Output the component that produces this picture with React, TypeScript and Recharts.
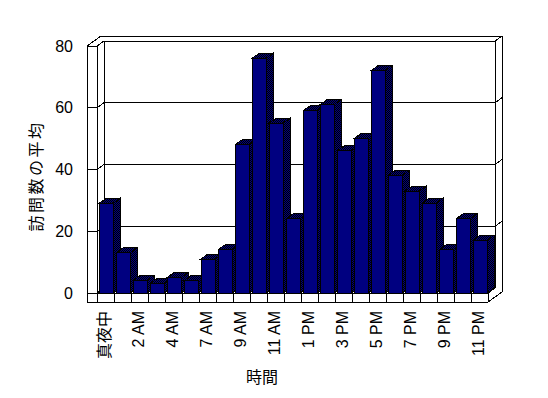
import React from 'react';
import { BarChart, Bar, XAxis, YAxis, CartesianGrid, Label } from 'recharts';

const hours = ['真夜中', '1 AM', '2 AM', '3 AM', '4 AM', '6 AM', '7 AM', '8 AM', '9 AM', '10 AM', '11 AM', '正午', '1 PM', '2 PM', '3 PM', '4 PM', '5 PM', '6 PM', '7 PM', '8 PM', '9 PM', '10 PM', '11 PM'];
const visits = [29, 13, 4, 3, 5, 4, 11, 14, 48, 76, 55, 24, 59, 61, 46, 50, 72, 38, 33, 29, 14, 24, 17];
const yTicks = [0, 20, 40, 60, 80];
const yTitle = '訪問数の平均';
const xTitle = '時間';

const data = hours.map((h, i) => ({ hour: h, visits: visits[i] }));

const W = 548;
const H = 398;
const DX = 7;
const DY = -5;
const WALL = 10;
const FLOOR = 9;
const FONT = "'Liberation Sans', Arial, 'Noto Sans CJK JP', sans-serif";
const JP = "'Noto Sans CJK JP', sans-serif";

// layout
const M = { top: 46, right: 60, bottom: 25, left: 37 };
const YW = 60;
const XH = 80;
const PL = M.left + YW;
const PR = W - M.right;
const PT = M.top;
const PB = H - M.bottom - XH;

const Bar3D = (props: any) => {
  const { x, y, width: w, height: h } = props;
  if (h == null || w == null || isNaN(y)) return null;
  const side = `${x + w},${y} ${x + w + DX},${y + DY} ${x + w + DX},${y + h + DY} ${x + w},${y + h}`;
  const top = `${x},${y} ${x + DX},${y + DY} ${x + w + DX},${y + DY} ${x + w},${y}`;
  return (
    <g shapeRendering="crispEdges">
      <polygon points={side} fill="url(#dither)" stroke="#000" strokeWidth={1} />
      <polygon points={top} fill="url(#dither)" stroke="#000" strokeWidth={1} />
      <rect x={x} y={y} width={w} height={h} fill="#000080" stroke="#000" strokeWidth={1} />
    </g>
  );
};

const gridH = (p: any) => {
  const { x1, y1, x2 } = p;
  const atFloor = Math.abs(y1 - PB) < 1;
  const pts = atFloor
    ? `${x1 - WALL},${y1} ${x1},${y1} ${x1 + DX},${y1 + DY}`
    : `${x1 - WALL},${y1} ${x1},${y1} ${x1 + DX},${y1 + DY} ${x2 + DX},${y1 + DY} ${x2 + 2 * DX},${y1 + 2 * DY}`;
  return <polyline key={p.key ?? `h${p.index}`} points={pts} fill="none" stroke="#000" strokeWidth={1} shapeRendering="crispEdges" />;
};

const gridV = (p: any) => (
  <line key={p.key ?? `v${p.index}`} x1={p.x1} x2={p.x1} y1={p.y2} y2={p.y2 + FLOOR} stroke="#000" strokeWidth={1} shapeRendering="crispEdges" />
);

const vGen = (p: any) => {
  const left = p?.offset?.left ?? PL;
  const width = p?.offset?.width ?? PR - PL;
  const n = hours.length;
  return Array.from({ length: n + 1 }, (_, i) => left + (i * width) / n);
};

const XTick = (p: any) => {
  const { x, y, payload } = p;
  const tx = x - 1;
  const ty = y + 18;
  return (
    <text x={tx} y={ty} transform={`rotate(-90 ${tx} ${ty})`} textAnchor="end" dominantBaseline="central" fontSize={16} fontFamily={FONT} fill="#000">
      {payload.value}
    </text>
  );
};

const Walls = () => (
  <svg width={W} height={H} style={{ position: 'absolute', left: 0, top: 0 }} shapeRendering="crispEdges">
    <defs>
      <pattern id="dither" x={0} y={0} width={2} height={2} patternUnits="userSpaceOnUse">
        <rect x={0} y={0} width={2} height={2} fill="#000080" />
        <rect x={0} y={0} width={1} height={1} fill="#000" />
        <rect x={1} y={1} width={1} height={1} fill="#000" />
      </pattern>
    </defs>
    <g stroke="#000" strokeWidth={1} fill="none">
      <line x1={PL - WALL} y1={PT} x2={PL - WALL} y2={PB + FLOOR} />
      <line x1={PL} y1={PT} x2={PL} y2={PB} />
      <line x1={PL - WALL} y1={PB + FLOOR} x2={PR} y2={PB + FLOOR} />
      <line x1={PL} y1={PB} x2={PR} y2={PB} />
      <line x1={PR} y1={PB} x2={PR} y2={PB + FLOOR} />
      <line x1={PR} y1={PB + FLOOR} x2={PR + 2 * DX} y2={PB + FLOOR + 2 * DY} />
      <line x1={PR} y1={PB} x2={PR + DX} y2={PB + DY} />
      <line x1={PL - WALL} y1={PT} x2={PL - WALL + 2 * DX} y2={PT + 2 * DY} />
      <line x1={PL - WALL + 2 * DX} y1={PT + 2 * DY} x2={PR + 2 * DX} y2={PT + 2 * DY} />
      <line x1={PR + 2 * DX} y1={PT + 2 * DY} x2={PR + 2 * DX} y2={PB + FLOOR + 2 * DY} />
      <line x1={PR + DX} y1={PT + DY} x2={PR + DX} y2={PB + DY} />
      <line x1={PL + DX} y1={PT + DY} x2={PL + DX} y2={PB + DY} />
    </g>
  </svg>
);

export default function App() {
  return (
    <div style={{ position: 'absolute', left: 0, top: 0, width: W, height: H, background: '#fff' }}>
      <Walls />
      <div style={{ position: 'absolute', left: 0, top: 0 }}>
        <BarChart width={W} height={H} data={data} margin={M} barSize={14}>
          <CartesianGrid
            horizontal={gridH}
            vertical={gridV}
            verticalCoordinatesGenerator={vGen}
            fill="none"
          />
          <XAxis
            dataKey="hour"
            height={XH}
            interval={1}
            tickLine={false}
            axisLine={false}
            tickSize={0}
            tickMargin={0}
            tick={<XTick />}
          >
            <Label
              content={() => (
                <text x={262} y={376} textAnchor="middle" dominantBaseline="central" fontSize={16} fontFamily={JP} fill="#000">
                  {xTitle}
                </text>
              )}
            />
          </XAxis>
          <YAxis
            width={YW}
            domain={[0, 80]}
            ticks={yTicks}
            tickLine={false}
            axisLine={false}
            tickSize={0}
            tickMargin={24}
            tick={{ fontSize: 16, fontFamily: FONT, fill: '#000' }}
          >
            <Label
              content={() => (
                <text x={35} y={176} transform="rotate(-90 35 176)" textAnchor="middle" dominantBaseline="central" fontSize={16} letterSpacing={2.5} fontFamily={JP} fill="#000">
                  {yTitle}
                </text>
              )}
            />
          </YAxis>
          <Bar dataKey="visits" shape={<Bar3D />} isAnimationActive={false} />
        </BarChart>
      </div>
    </div>
  );
}
